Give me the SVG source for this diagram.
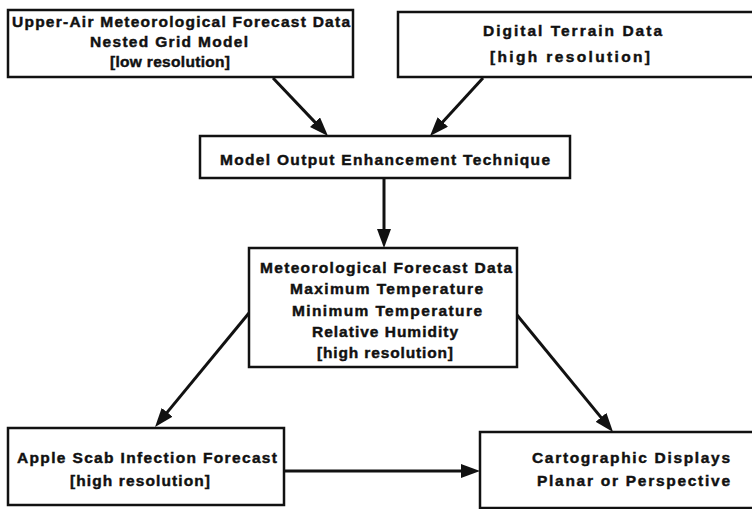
<svg xmlns="http://www.w3.org/2000/svg" width="752" height="509" viewBox="0 0 752 509">
<style>
.box{fill:#fff;stroke:#111;stroke-width:2.5}
.t{font-family:"Liberation Sans",Arial,Helvetica,sans-serif;font-weight:bold;font-size:15.5px;fill:#111;stroke:#111;stroke-width:0.45}
.c{fill:none;stroke:#111;stroke-width:3}
</style>
<defs>
<marker id="ah" markerUnits="userSpaceOnUse" markerWidth="19" markerHeight="14" refX="12" refY="7" orient="auto" viewBox="0 0 19 14">
<path d="M0,0 L19,7 L0,14 z" fill="#111"/>
</marker>
</defs>
<rect x="0" y="0" width="752" height="509" fill="#fff"/>
<g id="connectors">
<line class="c" x1="273" y1="78" x2="323.2" y2="130.9" marker-end="url(#ah)"/>
<line class="c" x1="483" y1="78" x2="434.7" y2="130.8" marker-end="url(#ah)"/>
<line class="c" x1="384" y1="178" x2="384" y2="241" marker-end="url(#ah)"/>
<line class="c" x1="249" y1="313" x2="159.5" y2="421.6" marker-end="url(#ah)"/>
<line class="c" x1="517" y1="315" x2="608.6" y2="426.6" marker-end="url(#ah)"/>
<line class="c" x1="284" y1="471" x2="473" y2="471" marker-end="url(#ah)"/>
</g>
<g id="upper-air">
<rect class="box" x="8" y="10" width="345" height="67"/>
<text class="t" x="12" y="27" textLength="338" lengthAdjust="spacing">Upper-Air Meteorological Forecast Data</text>
<text class="t" x="90" y="47" textLength="158" lengthAdjust="spacing">Nested Grid Model</text>
<text class="t" x="110" y="67" textLength="120" lengthAdjust="spacing">[low resolution]</text>
</g>
<g id="terrain">
<rect class="box" x="398" y="12" width="365" height="65"/>
<text class="t" x="483" y="36" textLength="179" lengthAdjust="spacing">Digital Terrain Data</text>
<text class="t" x="490" y="62" textLength="160" lengthAdjust="spacing">[high resolution]</text>
</g>
<g id="moe">
<rect class="box" x="200" y="136" width="370" height="42"/>
<text class="t" x="220" y="165" textLength="330" lengthAdjust="spacing">Model Output Enhancement Technique</text>
</g>
<g id="met-data">
<rect class="box" x="249" y="248" width="268" height="119"/>
<text class="t" x="260" y="273" textLength="252" lengthAdjust="spacing">Meteorological Forecast Data</text>
<text class="t" x="290" y="294" textLength="193" lengthAdjust="spacing">Maximum Temperature</text>
<text class="t" x="292" y="316" textLength="190" lengthAdjust="spacing">Minimum Temperature</text>
<text class="t" x="312" y="337" textLength="146" lengthAdjust="spacing">Relative Humidity</text>
<text class="t" x="317" y="358" textLength="136" lengthAdjust="spacing">[high resolution]</text>
</g>
<g id="apple-scab">
<rect class="box" x="8" y="428" width="276" height="77"/>
<text class="t" x="17" y="463" textLength="260" lengthAdjust="spacing">Apple Scab Infection Forecast</text>
<text class="t" x="70" y="486" textLength="140" lengthAdjust="spacing">[high resolution]</text>
</g>
<g id="carto">
<rect class="box" x="480" y="432" width="285" height="76"/>
<text class="t" x="532" y="463" textLength="198" lengthAdjust="spacing">Cartographic Displays</text>
<text class="t" x="537" y="486" textLength="193" lengthAdjust="spacing">Planar or Perspective</text>
</g>
</svg>
